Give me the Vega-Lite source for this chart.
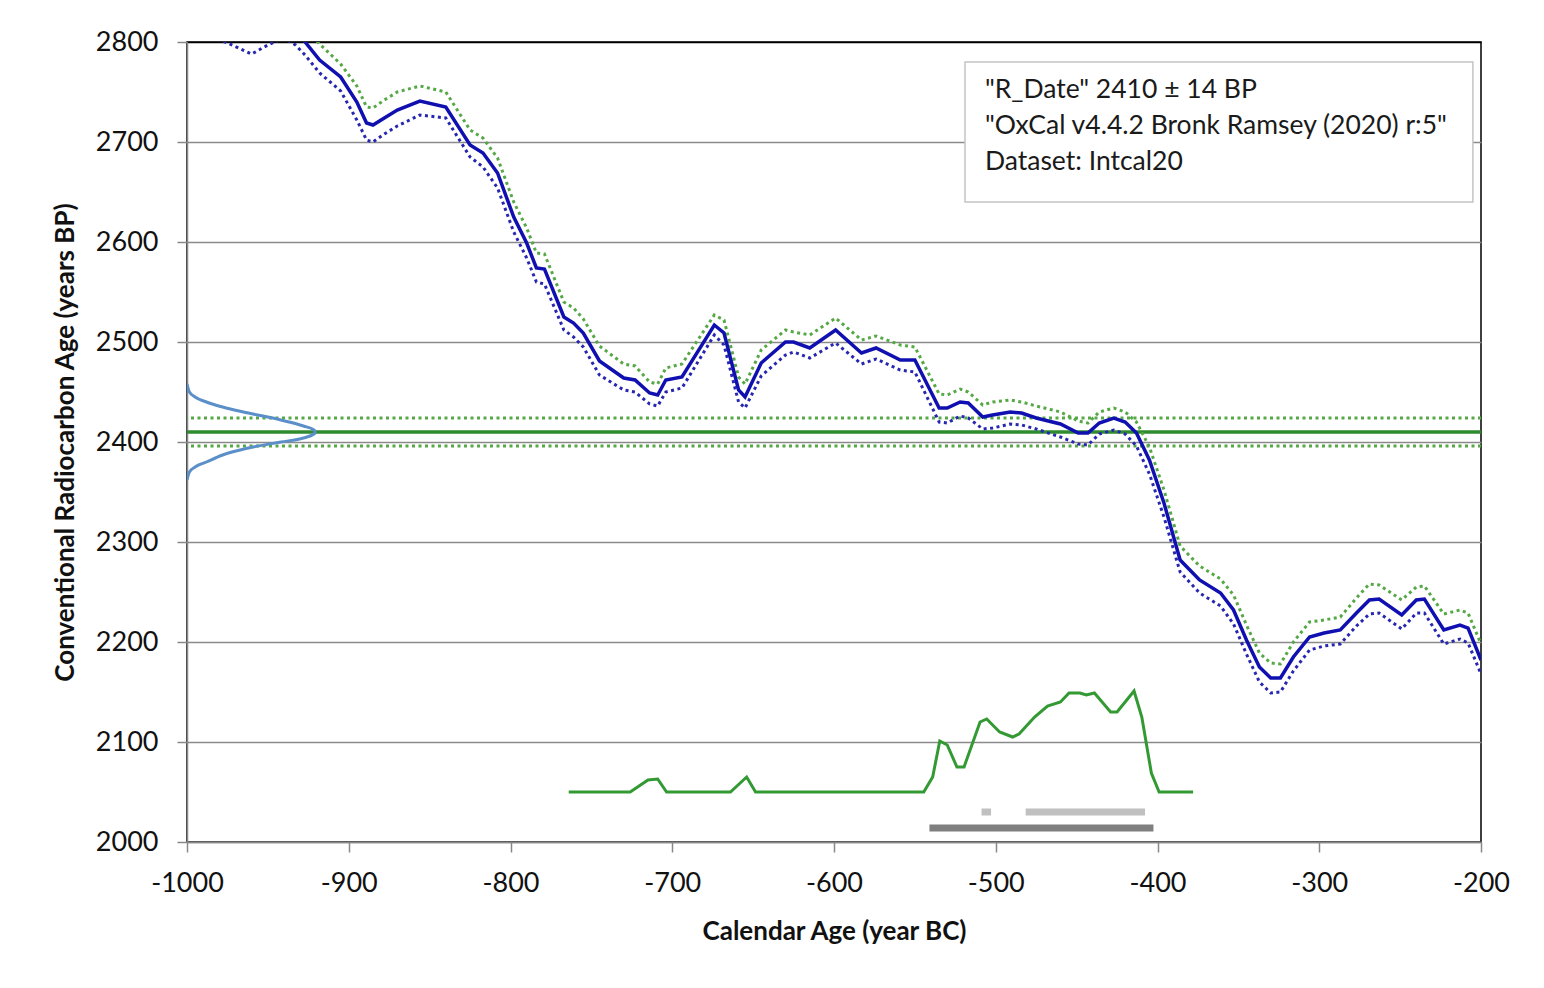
{
  "$schema": "https://vega.github.io/schema/vega-lite/v6.json",
  "autosize": "none",
  "width": 1294,
  "height": 800,
  "padding": {"left": 187, "top": 42, "right": 63, "bottom": 146},
  "background": "white",
  "config": {
    "font": "Lato",
    "view": {"stroke": "#000", "strokeWidth": 1.5},
    "axis": {
      "labelFont": "Lato", "labelFontSize": 27, "labelColor": "#111", "labelFlush": false, "labelOverlap": false,
      "titleFont": "Lato", "titleFontSize": 26, "titleFontWeight": "bold", "titleColor": "#111",
      "domainColor": "#888", "domainWidth": 1.5, "tickColor": "#888", "tickWidth": 1.5, "tickSize": 10
    }
  },
  "datasets": {
    "curve": [
      {"yr": -1000, "m": 2830, "u": 2845, "l": 2814},
      {"yr": -990, "m": 2824, "u": 2839, "l": 2808},
      {"yr": -975, "m": 2815, "u": 2830, "l": 2799},
      {"yr": -960, "m": 2805, "u": 2820, "l": 2788},
      {"yr": -950, "m": 2812, "u": 2827, "l": 2797},
      {"yr": -940, "m": 2818, "u": 2832, "l": 2804},
      {"yr": -933, "m": 2810, "u": 2824, "l": 2797},
      {"yr": -927, "m": 2800, "u": 2813, "l": 2787},
      {"yr": -918, "m": 2782, "u": 2798, "l": 2769},
      {"yr": -905, "m": 2765, "u": 2778, "l": 2751},
      {"yr": -895, "m": 2740, "u": 2756, "l": 2722},
      {"yr": -889, "m": 2719, "u": 2735, "l": 2702},
      {"yr": -885, "m": 2717, "u": 2734, "l": 2700},
      {"yr": -878, "m": 2724, "u": 2742, "l": 2708},
      {"yr": -870, "m": 2732, "u": 2750, "l": 2716},
      {"yr": -856, "m": 2741, "u": 2756, "l": 2727},
      {"yr": -840, "m": 2735, "u": 2750, "l": 2724},
      {"yr": -825, "m": 2697, "u": 2712, "l": 2685},
      {"yr": -817, "m": 2689, "u": 2704, "l": 2675},
      {"yr": -808, "m": 2669, "u": 2684, "l": 2654},
      {"yr": -798, "m": 2625, "u": 2640, "l": 2610},
      {"yr": -790, "m": 2599, "u": 2614, "l": 2584},
      {"yr": -784, "m": 2574, "u": 2589, "l": 2560},
      {"yr": -779, "m": 2573, "u": 2588, "l": 2558},
      {"yr": -767, "m": 2525, "u": 2540, "l": 2512},
      {"yr": -761, "m": 2519, "u": 2534, "l": 2505},
      {"yr": -755, "m": 2509, "u": 2523, "l": 2495},
      {"yr": -745, "m": 2481, "u": 2496, "l": 2467},
      {"yr": -730, "m": 2464, "u": 2478, "l": 2452},
      {"yr": -723, "m": 2462, "u": 2476, "l": 2450},
      {"yr": -714, "m": 2449, "u": 2460, "l": 2438},
      {"yr": -709, "m": 2447, "u": 2458, "l": 2436},
      {"yr": -704, "m": 2462, "u": 2474, "l": 2450},
      {"yr": -694, "m": 2465, "u": 2478, "l": 2454},
      {"yr": -674, "m": 2517, "u": 2527, "l": 2507},
      {"yr": -668, "m": 2509, "u": 2522, "l": 2497},
      {"yr": -659, "m": 2452, "u": 2465, "l": 2440},
      {"yr": -655, "m": 2445, "u": 2458, "l": 2434},
      {"yr": -645, "m": 2479, "u": 2492, "l": 2466},
      {"yr": -630, "m": 2500, "u": 2512, "l": 2487},
      {"yr": -625, "m": 2500, "u": 2510, "l": 2490},
      {"yr": -615, "m": 2494, "u": 2507, "l": 2484},
      {"yr": -599, "m": 2512, "u": 2524, "l": 2499},
      {"yr": -583, "m": 2489, "u": 2502, "l": 2478},
      {"yr": -574, "m": 2494, "u": 2506, "l": 2483},
      {"yr": -559, "m": 2482, "u": 2497, "l": 2472},
      {"yr": -550, "m": 2482, "u": 2495, "l": 2470},
      {"yr": -535, "m": 2434, "u": 2448, "l": 2420},
      {"yr": -530, "m": 2434, "u": 2447, "l": 2419},
      {"yr": -522, "m": 2440, "u": 2453, "l": 2426},
      {"yr": -517, "m": 2439, "u": 2450, "l": 2424},
      {"yr": -508, "m": 2425, "u": 2437, "l": 2413},
      {"yr": -502, "m": 2427, "u": 2440, "l": 2414},
      {"yr": -491, "m": 2430, "u": 2442, "l": 2418},
      {"yr": -484, "m": 2429, "u": 2440, "l": 2417},
      {"yr": -475, "m": 2424, "u": 2436, "l": 2413},
      {"yr": -460, "m": 2418, "u": 2430, "l": 2405},
      {"yr": -449, "m": 2409, "u": 2421, "l": 2398},
      {"yr": -443, "m": 2409, "u": 2419, "l": 2397},
      {"yr": -436, "m": 2419, "u": 2430, "l": 2408},
      {"yr": -427, "m": 2424, "u": 2434, "l": 2412},
      {"yr": -420, "m": 2420, "u": 2430, "l": 2408},
      {"yr": -413, "m": 2409, "u": 2420, "l": 2396},
      {"yr": -405, "m": 2382, "u": 2395, "l": 2368},
      {"yr": -396, "m": 2339, "u": 2352, "l": 2325},
      {"yr": -386, "m": 2282, "u": 2296, "l": 2270},
      {"yr": -374, "m": 2262, "u": 2276, "l": 2249},
      {"yr": -361, "m": 2249, "u": 2263, "l": 2236},
      {"yr": -353, "m": 2232, "u": 2247, "l": 2218},
      {"yr": -345, "m": 2202, "u": 2217, "l": 2188},
      {"yr": -337, "m": 2175, "u": 2189, "l": 2160},
      {"yr": -330, "m": 2164, "u": 2179, "l": 2149},
      {"yr": -324, "m": 2164, "u": 2178, "l": 2150},
      {"yr": -316, "m": 2185, "u": 2200, "l": 2171},
      {"yr": -306, "m": 2205, "u": 2220, "l": 2192},
      {"yr": -297, "m": 2209, "u": 2222, "l": 2196},
      {"yr": -287, "m": 2212, "u": 2225, "l": 2198},
      {"yr": -277, "m": 2229, "u": 2244, "l": 2216},
      {"yr": -269, "m": 2242, "u": 2258, "l": 2228},
      {"yr": -263, "m": 2243, "u": 2257, "l": 2229},
      {"yr": -249, "m": 2227, "u": 2242, "l": 2213},
      {"yr": -240, "m": 2242, "u": 2255, "l": 2229},
      {"yr": -235, "m": 2243, "u": 2256, "l": 2229},
      {"yr": -223, "m": 2212, "u": 2228, "l": 2198},
      {"yr": -213, "m": 2217, "u": 2232, "l": 2203},
      {"yr": -208, "m": 2214, "u": 2229, "l": 2199},
      {"yr": -200, "m": 2182, "u": 2198, "l": 2168}
    ],
    "gauss": [
      {"bp": 2458, "yr": -1000},
      {"bp": 2450, "yr": -998.5},
      {"bp": 2445, "yr": -995},
      {"bp": 2440, "yr": -988},
      {"bp": 2435, "yr": -978},
      {"bp": 2429, "yr": -962},
      {"bp": 2422, "yr": -942},
      {"bp": 2416, "yr": -928},
      {"bp": 2412, "yr": -921.5},
      {"bp": 2410, "yr": -920},
      {"bp": 2408, "yr": -921.5},
      {"bp": 2404, "yr": -928},
      {"bp": 2400, "yr": -942},
      {"bp": 2394, "yr": -962},
      {"bp": 2387, "yr": -978},
      {"bp": 2380, "yr": -988},
      {"bp": 2375, "yr": -995},
      {"bp": 2370, "yr": -998.5},
      {"bp": 2362, "yr": -1000}
    ],
    "dist": [
      {"yr": -764, "p": 2050}, {"yr": -726, "p": 2050}, {"yr": -715, "p": 2062},
      {"yr": -709, "p": 2063}, {"yr": -703.5, "p": 2050}, {"yr": -664, "p": 2050},
      {"yr": -654, "p": 2065}, {"yr": -648.5, "p": 2050}, {"yr": -544.5, "p": 2050},
      {"yr": -539, "p": 2065}, {"yr": -534.6, "p": 2101}, {"yr": -530, "p": 2097},
      {"yr": -524, "p": 2075}, {"yr": -519.6, "p": 2075}, {"yr": -509.7, "p": 2120},
      {"yr": -505.6, "p": 2123}, {"yr": -497.6, "p": 2110}, {"yr": -489.6, "p": 2105},
      {"yr": -485.6, "p": 2108}, {"yr": -476, "p": 2125}, {"yr": -468, "p": 2136},
      {"yr": -460, "p": 2140}, {"yr": -454.7, "p": 2149}, {"yr": -448, "p": 2149},
      {"yr": -444, "p": 2147}, {"yr": -439, "p": 2149}, {"yr": -429, "p": 2130},
      {"yr": -425, "p": 2130}, {"yr": -414.5, "p": 2151}, {"yr": -409.7, "p": 2125},
      {"yr": -403.8, "p": 2069}, {"yr": -399, "p": 2050}, {"yr": -378, "p": 2050}
    ],
    "ranges": [
      {"a": -508.8, "b": -502.9, "y": 2030, "t": "light"},
      {"a": -481.5, "b": -407.7, "y": 2030, "t": "light"},
      {"a": -541, "b": -402.5, "y": 2014, "t": "dark"}
    ],
    "box": [{"a": -519, "b": -205, "y1": 2780, "y2": 2640}],
    "notes": [
      {"yr": -506.7, "bp": 2752, "txt": "\"R_Date\" 2410 ± 14 BP"},
      {"yr": -506.7, "bp": 2716, "txt": "\"OxCal v4.4.2 Bronk Ramsey (2020) r:5\""},
      {"yr": -506.7, "bp": 2680, "txt": "Dataset: Intcal20"}
    ],
    "hsolid": [{"v": 2410}],
    "hdot": [{"v": 2424}, {"v": 2396}]
  },
  "encoding": {
    "x": {"type": "quantitative"},
    "y": {"type": "quantitative"}
  },
  "layer": [
    {
      "data": {"name": "hsolid"},
      "mark": {"type": "rule", "color": "#2e8b2e", "strokeWidth": 3.5},
      "encoding": {
        "y": {"field": "v", "type": "quantitative",
          "scale": {"domain": [2000, 2800], "nice": false, "zero": false},
          "axis": {
            "values": [2000, 2100, 2200, 2300, 2400, 2500, 2600, 2700, 2800],
            "format": "d",
            "title": "Conventional Radiocarbon Age (years BP)",
            "grid": true,
            "gridColor": {"condition": {"test": "datum.value === 2800", "value": "#000"}, "value": "#8a8a8a"},
            "gridWidth": 1.5,
            "labelPadding": 19,
            "titlePadding": 17
          }
        }
      }
    },
    {
      "data": {"name": "hdot"},
      "mark": {"type": "rule", "color": "#55a845", "strokeWidth": 3, "strokeDash": [3, 3.5]},
      "encoding": {"y": {"field": "v", "type": "quantitative"}}
    },
    {
      "data": {"name": "gauss"},
      "mark": {"type": "line", "color": "#5b8fc9", "strokeWidth": 3, "clip": true, "interpolate": "monotone"},
      "encoding": {
        "x": {"field": "yr", "type": "quantitative"},
        "y": {"field": "bp", "type": "quantitative"},
        "order": {"field": "bp", "type": "quantitative"}
      }
    },
    {
      "data": {"name": "curve"},
      "mark": {"type": "line", "color": "#55a845", "strokeWidth": 3, "strokeDash": [3, 3.5], "clip": true},
      "encoding": {
        "x": {"field": "yr", "type": "quantitative",
          "scale": {"domain": [-1000, -200], "nice": false, "zero": false},
          "axis": {
            "values": [-1000, -900, -800, -700, -600, -500, -400, -300, -200],
            "labelExpr": "'' + datum.value",
            "title": "Calendar Age (year BC)",
            "grid": false,
            "labelPadding": 18,
            "titlePadding": 22
          }
        },
        "y": {"field": "u", "type": "quantitative"}
      }
    },
    {
      "data": {"name": "curve"},
      "mark": {"type": "line", "color": "#2626b0", "strokeWidth": 3, "strokeDash": [3, 3.5], "clip": true},
      "encoding": {
        "x": {"field": "yr", "type": "quantitative"},
        "y": {"field": "l", "type": "quantitative"}
      }
    },
    {
      "data": {"name": "curve"},
      "mark": {"type": "line", "color": "#1010b0", "strokeWidth": 3.5, "clip": true},
      "encoding": {
        "x": {"field": "yr", "type": "quantitative"},
        "y": {"field": "m", "type": "quantitative"}
      }
    },
    {
      "data": {"name": "dist"},
      "mark": {"type": "line", "color": "#339933", "strokeWidth": 3},
      "encoding": {
        "x": {"field": "yr", "type": "quantitative"},
        "y": {"field": "p", "type": "quantitative"}
      }
    },
    {
      "data": {"name": "ranges"},
      "mark": {"type": "rule", "strokeWidth": 7},
      "encoding": {
        "x": {"field": "a", "type": "quantitative"},
        "x2": {"field": "b"},
        "y": {"field": "y", "type": "quantitative"},
        "color": {"field": "t", "type": "nominal", "scale": {"domain": ["light", "dark"], "range": ["#c0c0c0", "#7f7f7f"]}, "legend": null}
      }
    },
    {
      "data": {"name": "box"},
      "mark": {"type": "rect", "fill": "white", "stroke": "#c4c4c4", "strokeWidth": 1.5},
      "encoding": {
        "x": {"field": "a", "type": "quantitative"},
        "x2": {"field": "b"},
        "y": {"field": "y1", "type": "quantitative"},
        "y2": {"field": "y2"}
      }
    },
    {
      "data": {"name": "notes"},
      "mark": {"type": "text", "align": "left", "baseline": "middle", "font": "Lato", "fontSize": 26.5, "color": "#1a1a1a"},
      "encoding": {
        "x": {"field": "yr", "type": "quantitative"},
        "y": {"field": "bp", "type": "quantitative"},
        "text": {"field": "txt"}
      }
    }
  ]
}
